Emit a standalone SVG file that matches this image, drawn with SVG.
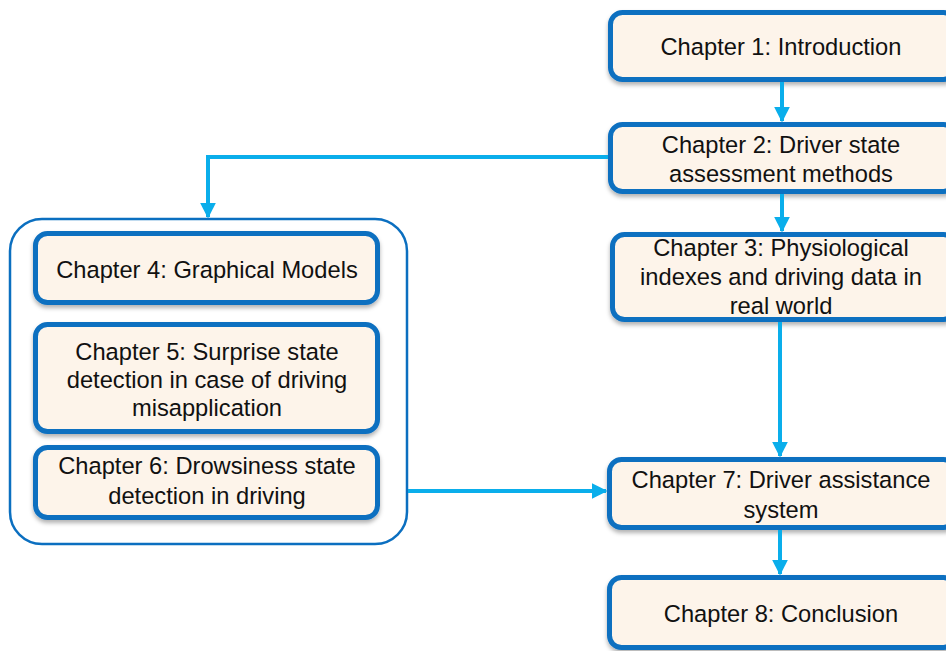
<svg xmlns="http://www.w3.org/2000/svg" width="946" height="651" viewBox="0 0 946 651">
  <defs>
    <marker id="arrow" viewBox="0 0 10 10" refX="9" refY="5" markerWidth="4" markerHeight="4" orient="auto" markerUnits="strokeWidth">
      <path d="M0,0 L10,5 L0,10 Z" fill="#0aaeeb"/>
    </marker>
    <filter id="shadow" x="-10%" y="-10%" width="120%" height="130%">
      <feDropShadow dx="0" dy="3" stdDeviation="2" flood-color="#000" flood-opacity="0.3"/>
    </filter>
  </defs>
  <style>
    .box { fill: #fdf4ea; stroke: #0b6fc0; stroke-width: 5; filter: url(#shadow); }
    .group { fill: none; stroke: #0b6fc0; stroke-width: 2.5; }
    .label { font-family: "Liberation Sans", Arial, sans-serif; font-size: 23.7px; fill: #111; text-anchor: middle; }
    .conn { fill: none; stroke: #0aaeeb; stroke-width: 4; marker-end: url(#arrow); }
  </style>
  <rect width="946" height="651" fill="#ffffff"/>

  <!-- container for chapters 4-6 -->
  <g id="group-models">
    <rect class="group" x="10" y="219" width="397" height="325" rx="32"/>
  </g>

  <g id="ch1">
    <rect class="box" x="610.5" y="12.5" width="345" height="67" rx="12"/>
    <text class="label" x="781" y="55">Chapter 1: Introduction</text>
  </g>
  <g id="ch2">
    <rect class="box" x="610.5" y="124.5" width="345" height="67" rx="12"/>
    <text class="label" x="781" y="153">Chapter 2: Driver state</text>
    <text class="label" x="781" y="182">assessment methods</text>
  </g>
  <g id="ch3">
    <rect class="box" x="612.5" y="234.5" width="343" height="85" rx="12"/>
    <text class="label" x="781" y="256">Chapter 3: Physiological</text>
    <text class="label" x="781" y="285">indexes and driving data in</text>
    <text class="label" x="781" y="314">real world</text>
  </g>
  <g id="ch4">
    <rect class="box" x="35.5" y="233.5" width="342" height="69" rx="12"/>
    <text class="label" x="207" y="278">Chapter 4: Graphical Models</text>
  </g>
  <g id="ch5">
    <rect class="box" x="35.5" y="324.5" width="342" height="107" rx="12"/>
    <text class="label" x="207" y="360">Chapter 5: Surprise state</text>
    <text class="label" x="207" y="388">detection in case of driving</text>
    <text class="label" x="207" y="416">misapplication</text>
  </g>
  <g id="ch6">
    <rect class="box" x="35.5" y="447.5" width="342" height="70" rx="12"/>
    <text class="label" x="207" y="474">Chapter 6: Drowsiness state</text>
    <text class="label" x="207" y="504">detection in driving</text>
  </g>
  <g id="ch7">
    <rect class="box" x="609.5" y="459.5" width="346" height="68" rx="12"/>
    <text class="label" x="781" y="488">Chapter 7: Driver assistance</text>
    <text class="label" x="781" y="518">system</text>
  </g>
  <g id="ch8">
    <rect class="box" x="609.5" y="577.5" width="346" height="70" rx="12"/>
    <text class="label" x="781" y="622">Chapter 8: Conclusion</text>
  </g>

  <g id="connectors">
    <path class="conn" d="M782,82 V121"/>
    <path class="conn" d="M608,157 H208 V217"/>
    <path class="conn" d="M782,194 V231"/>
    <path class="conn" d="M780,322 V456"/>
    <path class="conn" d="M408,491 H606"/>
    <path class="conn" d="M780,530 V574"/>
  </g>
</svg>
